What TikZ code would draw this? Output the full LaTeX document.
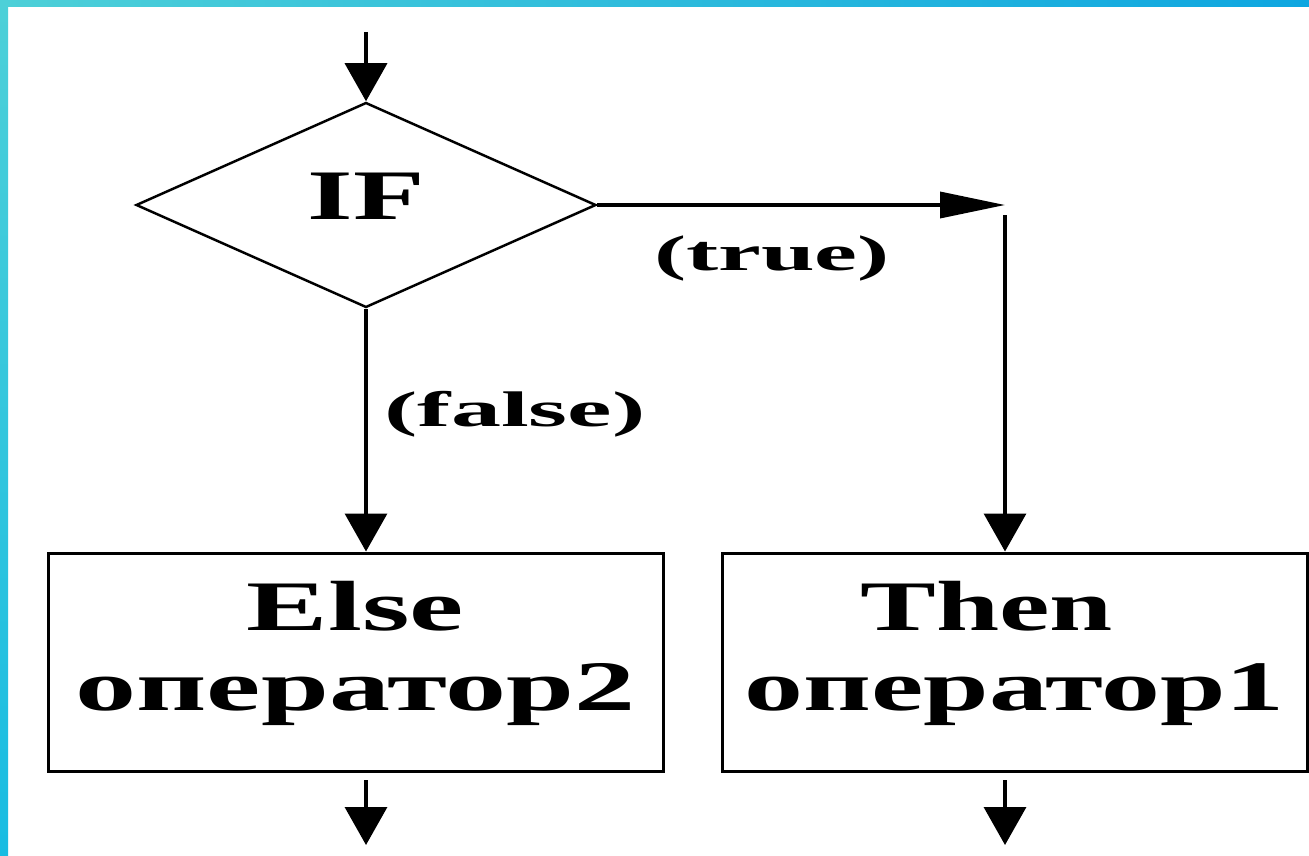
\documentclass[tikz,border=0pt]{standalone}
\usepackage{fontspec}
\setmainfont{Liberation Serif}
\usetikzlibrary{shapes.geometric,arrows.meta}
\newcommand\stretchtxt[2]{\scalebox{#1}[1]{#2}}
\newcommand\lowpad{\rule[-32pt]{0pt}{1pt}}
\definecolor{bandA}{HTML}{4DD0D8}
\definecolor{bandB}{HTML}{0EA6E0}
\definecolor{bandC}{HTML}{18BCE2}
\begin{document}
\begin{tikzpicture}[x=1pt,y=-1pt,
  conn/.style={line width=3.5pt,-{Triangle[length=38pt,width=42pt]}},
  box/.style={draw,line width=3pt,minimum height=218pt,align=center,inner sep=0pt,
    font=\fontsize{71}{80}\selectfont\bfseries},
  lbl/.style={inner sep=0pt,font=\fontsize{50}{56}\selectfont\bfseries}]
\useasboundingbox (0,0) rectangle (1309,856);
\fill[white] (0,0) rectangle (1309,856);
\shade[left color=bandA,right color=bandB] (0,0) rectangle (1309,7);
\shade[top color=bandA,bottom color=bandC] (0,0) rectangle (8,856);

\node[diamond,draw,line width=2.5pt,minimum width=460pt,minimum height=205pt,
  inner sep=0pt,aspect=2.2,font=\fontsize{71}{80}\selectfont\bfseries]
  (cond) at (366,205) {\raisebox{18pt}{\stretchtxt{1.65}{IF}}};

\node[box,minimum width=615pt] (else) at (355.5,662)
  {\stretchtxt{1.72}{Else}\\\stretchtxt{1.72}{оператор2}\lowpad};
\node[box,minimum width=585pt] (then) at (1014.5,662)
  {\stretchtxt{1.6}{Then}\hspace*{56pt}\\\stretchtxt{1.66}{оператор1}\lowpad};

\node[lbl] (tl) at (772,258) {\stretchtxt{1.93}{(true)}};
\node[lbl] (fl) at (515,414) {\stretchtxt{2.0}{(false)}};

\coordinate (in) at (366,32);
\draw[conn] (in) -- (cond.north);
\draw[conn] (cond.south) -- (cond.south |- else.north);
\coordinate (tj2) at (1005,215);
\coordinate (tj) at (cond.east -| tj2);
\draw[line width=3.5pt,-{Triangle[length=65pt,width=26pt]}] (cond.east) -- (tj);
\draw[conn] (tj2) -- (tj2 |- then.north);
\coordinate (e1) at (366,780);
\coordinate (e2) at (366,845);
\draw[conn] (e1) -- (e2);
\coordinate (t1) at (1005,780);
\coordinate (t2) at (1005,845);
\draw[conn] (t1) -- (t2);
\end{tikzpicture}
\end{document}
